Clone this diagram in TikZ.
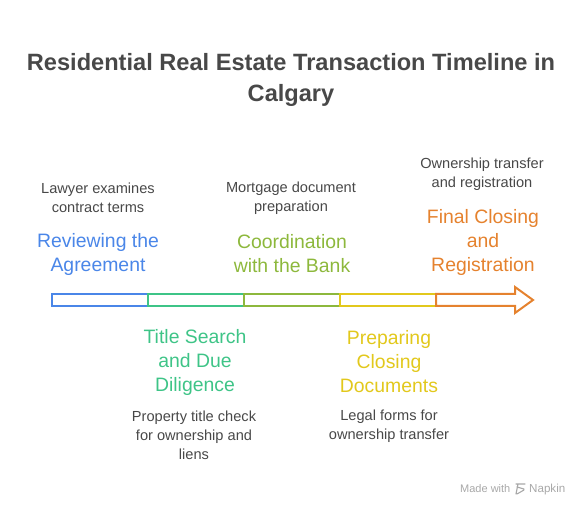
\documentclass[tikz,border=0pt]{standalone}
\usepackage{fontspec}
\setmainfont{Liberation Sans}
\usetikzlibrary{positioning}

\definecolor{cblue}{HTML}{4A86E8}
\definecolor{cgreen}{HTML}{3EC487}
\definecolor{colive}{HTML}{8DB83C}
\definecolor{cyellow}{HTML}{E2C81C}
\definecolor{corange}{HTML}{E5822E}
\definecolor{ctext}{HTML}{484848}
\definecolor{cmark}{HTML}{A8A8A8}

\begin{document}
\begin{tikzpicture}[x=1pt, y=-1pt,
        seg/.style={draw, line width=2pt, minimum width=96pt, minimum height=12pt, inner sep=0pt, outer sep=0pt},
        lbl/.style={align=center, inner sep=0pt, font=\fontsize{19.4}{24}\selectfont},
        desc/.style={align=center, inner sep=0pt, text=ctext, font=\fontsize{14.6}{19}\selectfont}]
        \useasboundingbox (0,0) rectangle (586,510);

        \node (title) [align=center, text=ctext, font=\fontsize{23.6}{31}\bfseries] at (291,80)
            {Residential Real Estate Transaction Timeline in\\Calgary};

        \node (S1) [seg, draw=cblue] at (100,300) {};
        \node (S2) [seg, draw=cgreen, right=0pt of S1] {};
        \node (S3) [seg, draw=colive, right=0pt of S2] {};
        \node (S4) [seg, draw=cyellow, right=0pt of S3] {};
        \draw [corange, line width=2pt, line join=miter]
            (S4.north east) -- ++(79,0) -- ++(0,-7) -- ++(18,13) -- ++(-18,13) -- ++(0,-7) -- (S4.south east) -- cycle;

        \node (L1) [lbl, text=cblue] at (98,254) {Reviewing the\\Agreement};
        \node (D1) [desc] at (98,198) {Lawyer examines\\contract terms};
        \node (L2) [lbl, text=cgreen] at (195,362) {Title Search\\and Due\\Diligence};
        \node (D2) [desc] at (194,435) {Property title check\\for ownership and\\liens};
        \node (L3) [lbl, text=colive] at (292,254) {Coordination\\with the Bank};
        \node (D3) [desc] at (291,198) {Mortgage document\\preparation};
        \node (L4) [lbl, text=cyellow] at (389,362) {Preparing\\Closing\\Documents};
        \node (D4) [desc] at (389,426) {Legal forms for\\ownership transfer};
        \node (L5) [lbl, text=corange] at (483,242) {Final Closing\\and\\Registration};
        \node (D5) [desc] at (482,174) {Ownership transfer\\and registration};

        \node (made) [anchor=west, inner sep=0pt, text=cmark, font=\fontsize{11}{13}\selectfont] at (460,489) {Made with};
        \node (napkin) [anchor=west, inner sep=0pt, text=cmark, font=\fontsize{11.6}{13}\selectfont] at (529,489) {Napkin};
        \draw [cmark, line width=1.1pt, line cap=round]
            (516,484) -- (525,484) (517,487) -- (524,489) (517,494) -- (524,490) (516,494) -- (518,484);
\end{tikzpicture}
\end{document}
